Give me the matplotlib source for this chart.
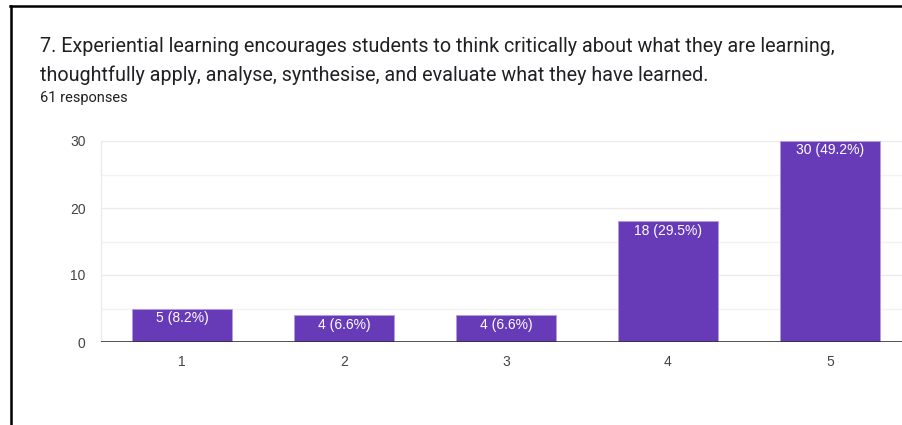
import matplotlib
matplotlib.use("Agg")
import matplotlib.pyplot as plt
from matplotlib.lines import Line2D

categories = [1, 2, 3, 4, 5]
counts = [5, 4, 4, 18, 30]
percents = [8.2, 6.6, 6.6, 29.5, 49.2]
y_ticks = [0, 10, 20, 30]
minor_ticks = [5, 15, 25]

title_lines = [
    "7. Experiential learning encourages students to think critically about what they are learning,",
    "thoughtfully apply, analyse, synthesise, and evaluate what they have learned.",
]
subtitle = "61 responses"

W, H = 902, 425
fig = plt.figure(figsize=(W / 100, H / 100), dpi=100)
fig.patch.set_facecolor("white")
plt.rcParams["font.family"] = ["Roboto", "DejaVu Sans"]
chart_font = ["Liberation Sans", "DejaVu Sans"]

# card frame: top and left border
fig.add_artist(Line2D([10 / W, 1.0], [1 - 5.5 / H, 1 - 5.5 / H], color="black", lw=1.8))
fig.add_artist(Line2D([10.5 / W, 10.5 / W], [0, 1 - 5.5 / H], color="black", lw=1.8))

fig.text(40 / W, 1 - 46 / H, title_lines[0], fontsize=14.2, color="#202124", va="center", ha="left")
fig.text(40 / W, 1 - 75 / H, title_lines[1], fontsize=14.2, color="#202124", va="center", ha="left")
fig.text(40 / W, 1 - 98 / H, subtitle, fontsize=10.5, color="#202124", va="center", ha="left")

# axes spanning from x=101px; category step 162px
ax_left = 101
step = 162
ax_right = ax_left + 5 * step
y0, y30 = 342, 141
ax = fig.add_axes([ax_left / W, 1 - y0 / H, (ax_right - ax_left) / W, (y0 - y30) / H])
ax.set_xlim(0.5, 5.5)
ax.set_ylim(0, 30)
ax.set_facecolor("white")

for v in minor_ticks:
    ax.axhline(v, color="#f3f3f3", lw=1, zorder=0)
for v in y_ticks[1:]:
    ax.axhline(v, color="#ebebeb", lw=1, zorder=0)

bars = ax.bar(categories, counts, width=100 / step, color="#673ab7",
              edgecolor="#b39ddb", linewidth=0.6, zorder=2)
for x, c, p in zip(categories, counts, percents):
    ax.text(x, c - 0.35, f"{c} ({p}%)", ha="center", va="top", color="white",
            fontsize=10, family=chart_font, zorder=3)

ax.axhline(0, color="#333333", lw=1.2, zorder=3)
for s in ["top", "right", "bottom"]:
    ax.spines[s].set_visible(False)
ax.spines["left"].set_color("#ebebeb")
ax.spines["left"].set_linewidth(1)

ax.set_yticks(y_ticks)
ax.set_yticklabels([str(v) for v in y_ticks], family=chart_font)
ax.set_xticks(categories)
ax.set_xticklabels([str(c) for c in categories], family=chart_font)
ax.tick_params(axis="both", length=0, labelsize=10, colors="#444444")
ax.tick_params(axis="y", pad=11)
ax.tick_params(axis="x", pad=9)

fig.savefig("out.png", dpi=100, facecolor="white")
